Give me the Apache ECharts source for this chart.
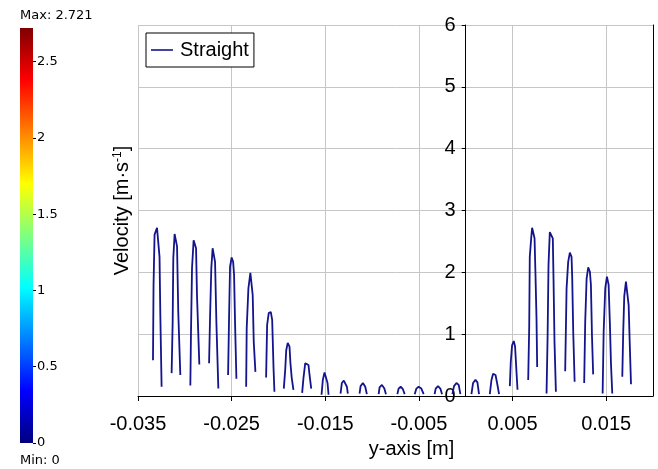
<!DOCTYPE html>
<html>
<head>
<meta charset="utf-8">
<script src="https://cdn.jsdelivr.net/npm/echarts@6.0.0/dist/echarts.min.js"></script>
<style>
  html, body { margin: 0; padding: 0; background: #fff; }
  #chart { width: 658px; height: 469px; }
</style>
</head>
<body>
<div id="chart"></div>
<script>
// one velocity profile per channel, x in mm (converted to m below)
const profileX = [
  [-33.40, -33.34, -33.23, -32.97, -32.80, -32.70, -32.62, -32.48],
  [-31.41, -31.30, -31.23, -31.09, -30.91, -30.83, -30.70, -30.48],
  [-29.41, -29.34, -29.23, -29.06, -28.88, -28.80, -28.70, -28.45],
  [-27.41, -27.30, -27.17, -27.03, -26.84, -26.77, -26.63, -26.42],
  [-25.38, -25.27, -25.17, -25.00, -24.84, -24.74, -24.63, -24.49],
  [-23.45, -23.39, -23.21, -23.00, -22.86, -22.75, -22.64, -22.46],
  [-21.32, -21.21, -21.04, -20.82, -20.67, -20.61, -20.53, -20.43],
  [-19.43, -19.28, -19.17, -19.01, -18.82, -18.72, -18.58, -18.40],
  [-17.47, -17.33, -17.14, -16.97, -16.79, -16.68, -16.50],
  [-15.40, -15.26, -15.08, -14.90, -14.76, -14.65],
  [-13.37, -13.23, -13.02, -12.83, -12.69, -12.59],
  [-11.34, -11.23, -10.98, -10.73, -10.56],
  [-9.30, -9.20, -8.95, -8.69, -8.52],
  [-7.30, -7.17, -6.95, -6.71, -6.52],
  [-5.45, -5.27, -5.03, -4.74, -4.49],
  [-3.32, -3.21, -2.96, -2.71, -2.53],
  [-1.42, -1.25, -0.99, -0.75, -0.57],
  [0.61, 0.78, 1.04, 1.25, 1.42],
  [2.57, 2.75, 2.92, 3.18, 3.35, 3.56],
  [4.71, 4.81, 4.95, 5.13, 5.27, 5.38, 5.53],
  [6.67, 6.78, 6.84, 6.99, 7.09, 7.20, 7.35, 7.45, 7.56, 7.63],
  [8.63, 8.74, 8.84, 8.98, 9.16, 9.30, 9.38, 9.48, 9.63],
  [10.62, 10.77, 10.94, 11.12, 11.30, 11.37, 11.48, 11.63],
  [12.65, 12.76, 12.91, 13.08, 13.26, 13.37, 13.48, 13.61],
  [14.62, 14.73, 14.90, 15.08, 15.26, 15.40, 15.51, 15.65],
  [16.72, 16.82, 16.93, 17.11, 17.29, 17.40, 17.51, 17.65]
]
const profileY = [
  [0.58, 1.80, 2.61, 2.72, 2.69, 2.25, 1.36, 0.15],
  [0.37, 1.18, 2.23, 2.62, 2.60, 2.42, 1.36, 0.34],
  [0.17, 1.04, 2.07, 2.52, 2.50, 2.39, 1.63, 0.51],
  [0.53, 1.31, 2.07, 2.39, 2.39, 2.17, 1.20, 0.12],
  [0.34, 1.31, 2.09, 2.24, 2.17, 1.96, 1.15, 0.28],
  [0.15, 1.10, 1.74, 1.99, 1.96, 1.63, 0.88, 0.39],
  [0.30, 1.15, 1.34, 1.36, 1.23, 0.91, 0.47, 0.07],
  [0.12, 0.42, 0.74, 0.86, 0.80, 0.53, 0.29, 0.10],
  [0.05, 0.29, 0.53, 0.56, 0.50, 0.34, 0.12],
  [0.02, 0.26, 0.38, 0.36, 0.21, 0.02],
  [0.04, 0.21, 0.25, 0.23, 0.15, 0.04],
  [0.04, 0.16, 0.21, 0.15, 0.03],
  [0.03, 0.14, 0.18, 0.12, 0.03],
  [0.03, 0.12, 0.15, 0.11, 0.03],
  [0.03, 0.12, 0.15, 0.12, 0.03],
  [0.03, 0.12, 0.16, 0.12, 0.03],
  [0.03, 0.16, 0.21, 0.18, 0.03],
  [0.03, 0.21, 0.26, 0.22, 0.03],
  [0.03, 0.26, 0.36, 0.34, 0.21, 0.03],
  [0.16, 0.55, 0.82, 0.89, 0.80, 0.50, 0.10],
  [0.26, 1.12, 2.25, 2.55, 2.72, 2.70, 2.55, 1.96, 1.25, 0.47],
  [0.04, 0.93, 2.12, 2.65, 2.67, 2.55, 1.85, 0.88, 0.07],
  [0.40, 1.74, 2.17, 2.32, 2.25, 1.93, 1.04, 0.23],
  [0.21, 1.20, 1.90, 2.08, 2.01, 1.80, 0.99, 0.35],
  [0.04, 1.04, 1.74, 1.93, 1.80, 1.15, 0.53, 0.04],
  [0.31, 1.04, 1.61, 1.85, 1.82, 1.47, 0.88, 0.19]
]

// colour legend (rainbow) on the left
const colorMin = 0
const colorMax = 2.721
const colorTicks = [0, 0.5, 1, 1.5, 2, 2.5]
const jetColors = ['#7f0000', '#ff0000', '#ffff00', '#00ffff', '#0000ff', '#00007f']
const jetStops = [0, 0.125, 0.375, 0.625, 0.875, 1]

const lineColor = '#14148c'
const font = 'Liberation Sans'
const gridColor = '#c6c6c6'

// main plot box
const plotLeft = 138
const plotRight = 653
const plotTop = 25
const plotBottom = 73
const xMin = -0.035
const xMax = 0.02
const yMin = 0
const yMax = 6
// the velocity axis sits at y-axis = 0 -> width from left edge to that line
const zeroOffset = (0 - xMin) / (xMax - xMin) * (plotRight - plotLeft)

const myChart = echarts.init(document.getElementById('chart'))

const series = profileX.map((xs, i) => ({
  name: 'Straight',
  type: 'line',
  xAxisIndex: 0,
  yAxisIndex: 0,
  data: xs.map((x, j) => [x / 1000, profileY[i][j]]),
  symbol: 'none',
  lineStyle: { color: lineColor, width: 1.8 },
  itemStyle: { color: lineColor },
  silent: true
}))

// axis line of the velocity axis at y-axis = 0
series[0].markLine = {
  silent: true,
  symbol: ['none', 'none'],
  label: { show: false },
  lineStyle: { color: '#000', width: 1, type: 'solid' },
  data: [[{ coord: [0, yMin] }, { coord: [0, yMax] }]]
}

series.push({
  type: 'bar',
  xAxisIndex: 1,
  yAxisIndex: 2,
  data: [colorMax],
  barWidth: '100%',
  silent: true,
  itemStyle: {
    color: {
      type: 'linear', x: 0, y: 0, x2: 0, y2: 1,
      colorStops: jetColors.map((c, i) => ({ offset: jetStops[i], color: c }))
    }
  }
})

myChart.setOption({
  animation: false,
  title: [
    {
      text: 'Max: ' + colorMax, left: 20, top: 9, padding: 0,
      textStyle: { fontFamily: 'DejaVu Sans', fontSize: 13, fontWeight: 'normal', color: '#000' }
    },
    {
      text: 'Min: ' + colorMin, left: 20, top: 454, padding: 0,
      textStyle: { fontFamily: 'DejaVu Sans', fontSize: 13, fontWeight: 'normal', color: '#000' }
    }
  ],
  legend: {
    data: [{ name: 'Straight', icon: 'rect' }],
    left: 146,
    top: 33,
    padding: [7, 5, 7, 5],
    itemWidth: 22,
    itemHeight: 1.6,
    borderColor: '#000',
    borderWidth: 1,
    borderRadius: 0,
    backgroundColor: '#fff',
    itemStyle: { color: lineColor, borderWidth: 0 },
    textStyle: { fontFamily: font, fontSize: 20, color: '#000', padding: [0, 0, 0, 2] }
  },
  grid: [
    { left: plotLeft, right: 658 - plotRight, top: plotTop, bottom: plotBottom, outerBoundsMode: 'none', containLabel: false },
    { left: 20, width: 13, top: 28, height: 415, outerBoundsMode: 'none', containLabel: false },
    // same box, ending at y-axis = 0, only to carry the velocity axis there
    { left: plotLeft, width: zeroOffset, top: plotTop, bottom: plotBottom, outerBoundsMode: 'none', containLabel: false }
  ],
  xAxis: [
    {
      type: 'value',
      gridIndex: 0,
      min: xMin,
      max: xMax,
      interval: 0.01,
      name: 'y-axis [m]',
      nameLocation: 'middle',
      nameGap: 43,
      nameTextStyle: { fontFamily: font, fontSize: 20, color: '#000', padding: [0, 0, 0, 32] },
      axisLine: { show: true, onZero: false, lineStyle: { color: '#000', width: 1 } },
      axisTick: { show: true, length: 5, lineStyle: { color: '#000' } },
      axisLabel: {
        margin: 18,
        fontFamily: font,
        fontSize: 20,
        color: '#000',
        showMaxLabel: false,
        formatter: v => v.toFixed(3)
      },
      splitLine: { lineStyle: { color: gridColor, width: 1 } }
    },
    { type: 'category', gridIndex: 1, data: [''], show: false },
    { type: 'value', gridIndex: 2, min: 0, max: 1, show: false }
  ],
  yAxis: [
    {
      type: 'value',
      gridIndex: 0,
      min: yMin,
      max: yMax,
      interval: 1,
      name: 'Velocity [m·s{sup|-1}]',
      nameLocation: 'middle',
      nameGap: 6,
      nameTextStyle: {
        fontFamily: font,
        fontSize: 20,
        color: '#000',
        rich: {
          sup: { fontFamily: font, fontSize: 12, color: '#000', verticalAlign: 'top', lineHeight: 20 }
        }
      },
      axisLine: { show: false, onZero: false },
      axisTick: { show: false },
      axisLabel: { show: false },
      splitLine: { lineStyle: { color: gridColor, width: 1 } }
    },
    {
      // right frame line
      type: 'value',
      gridIndex: 0,
      position: 'right',
      min: yMin,
      max: yMax,
      axisLine: { show: true, onZero: false, lineStyle: { color: '#000', width: 1 } },
      axisTick: { show: false },
      axisLabel: { show: false },
      splitLine: { show: false }
    },
    {
      type: 'value',
      gridIndex: 1,
      position: 'right',
      min: colorMin,
      max: colorMax,
      axisLine: { show: false },
      axisTick: { show: true, length: 3, customValues: colorTicks, lineStyle: { color: '#000' } },
      axisLabel: { customValues: colorTicks, margin: 4, fontFamily: 'DejaVu Sans', fontSize: 13, color: '#000' },
      splitLine: { show: false }
    },
    {
      // velocity axis drawn at y-axis = 0
      type: 'value',
      gridIndex: 2,
      position: 'right',
      min: yMin,
      max: yMax,
      interval: 1,
      axisLine: { show: true, onZero: false, lineStyle: { color: '#000', width: 1 } },
      axisTick: { show: true, inside: true, length: 4, lineStyle: { color: '#000' } },
      axisLabel: { inside: true, margin: 10, fontFamily: font, fontSize: 20, color: '#000' },
      splitLine: { show: false }
    }
  ],
  series: series
})
</script>
</body>
</html>
